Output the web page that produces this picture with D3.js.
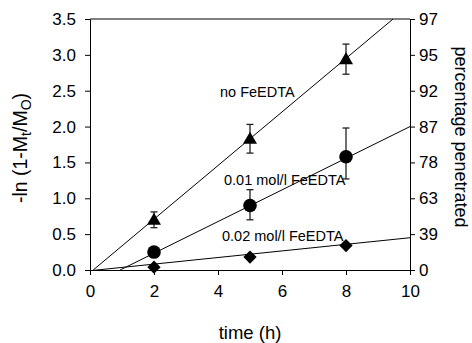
<!DOCTYPE html>
<html><head><meta charset="utf-8">
<script src="https://cdn.jsdelivr.net/npm/d3@7"></script>
<style>body{margin:0;background:#fff}svg{display:block}text{font-family:"Liberation Sans",Arial,sans-serif;fill:#000}</style>
</head><body><svg id="c" width="472" height="343"></svg>
<script>
// Data
const times = [2, 5, 8];
const noFe = [0.70, 1.83, 2.94];
const noFeErr = [0.11, 0.20, 0.21];
const fe01 = [0.25, 0.90, 1.58];
const fe01ErrUp = [0, 0.22, 0.40];
const fe01ErrDown = [0, 0.20, 0.31];
const fe02 = [0.04, 0.18, 0.34];
// fitted lines [x0, y0, x1, y1]
const fitNoFe = [0.1, 0, 9.47, 3.5];
const fit01 = [0.94, 0, 10, 2.0];
const fit02 = [0, -0.01, 10, 0.45];
const xTicks = [0, 2, 4, 6, 8, 10];
const yTicks = [0, 0.5, 1.0, 1.5, 2.0, 2.5, 3.0, 3.5];
const rightLabels = ["0", "39", "63", "78", "87", "92", "95", "97"];
const labels = ["no FeEDTA", "0.01 mol/l FeEDTA", "0.02 mol/l FeEDTA"];

const svg = d3.select("#c");
const L = 90, R = 410, T = 19, B = 270;
const x = d3.scaleLinear().domain([0, 10]).range([L, R]);
const y = d3.scaleLinear().domain([0, 3.5]).range([B, T]);

const g = svg.append("g");
svg.append("clipPath").attr("id", "clip").append("rect")
  .attr("x", L).attr("y", T).attr("width", R - L).attr("height", B - T);

// fit lines
[fitNoFe, fit01, fit02].forEach(f => {
  g.append("line").attr("clip-path", "url(#clip)")
    .attr("x1", x(f[0])).attr("y1", y(f[1])).attr("x2", x(f[2])).attr("y2", y(f[3]))
    .attr("stroke", "#000").attr("stroke-width", 1);
});

// error bars
function errBar(xv, lo, hi) {
  const cx = x(xv);
  g.append("line").attr("x1", cx).attr("x2", cx).attr("y1", y(lo)).attr("y2", y(hi)).attr("stroke", "#222").attr("stroke-width", 1.3);
  [lo, hi].forEach(v => g.append("line").attr("x1", cx - 3.5).attr("x2", cx + 3.5).attr("y1", y(v)).attr("y2", y(v)).attr("stroke", "#222").attr("stroke-width", 1.3));
}
times.forEach((t, i) => errBar(t, noFe[i] - noFeErr[i], noFe[i] + noFeErr[i]));
times.forEach((t, i) => { if (fe01ErrUp[i] > 0) errBar(t, fe01[i] - fe01ErrDown[i], fe01[i] + fe01ErrUp[i]); });

// markers
const tri = d3.symbol().type(d3.symbolTriangle).size(85);
const dia = d3.symbol().type(d3.symbolSquare).size(88);
times.forEach((t, i) => {
  g.append("path").attr("d", tri()).attr("transform", `translate(${x(t)},${y(noFe[i]) + 1})`).attr("fill", "#000");
  g.append("circle").attr("cx", x(t)).attr("cy", y(fe01[i])).attr("r", 6.8).attr("fill", "#000");
  g.append("path").attr("d", dia()).attr("transform", `translate(${x(t)},${y(fe02[i])}) rotate(45)`).attr("fill", "#000");
});

// frame top
g.append("line").attr("x1", L).attr("x2", R).attr("y1", T).attr("y2", T).attr("stroke", "#000");

// axes
const fs = "17px";
const ax = g.append("g").attr("transform", `translate(0,${B})`)
  .call(d3.axisBottom(x).tickValues(xTicks).tickFormat(d3.format("d")).tickSize(5).tickPadding(10).tickSizeOuter(0));
const ay = g.append("g").attr("transform", `translate(${L},0)`)
  .call(d3.axisLeft(y).tickValues(yTicks).tickFormat(d3.format(".1f")).tickSize(5).tickPadding(9).tickSizeOuter(0));
const ar = g.append("g").attr("transform", `translate(${R},0)`)
  .call(d3.axisRight(y).tickValues(yTicks).tickFormat((d, i) => rightLabels[i]).tickSize(5).tickPadding(4).tickSizeOuter(0));
[ax, ay, ar].forEach(a => {
  a.selectAll("text").style("font-size", fs).style("font-family", "Liberation Sans, Arial, sans-serif").attr("fill", "#000");
  a.selectAll("line,path").attr("stroke", "#000");
});

// series labels
const lbl = [[220, 97], [224, 185], [222, 241]];
labels.forEach((s, i) => g.append("text").attr("x", lbl[i][0]).attr("y", lbl[i][1]).style("font-size", "14.5px").text(s));

// axis titles
g.append("text").attr("x", 250).attr("y", 339).attr("text-anchor", "middle").style("font-size", "18.5px").text("time (h)");
const lt = g.append("text").attr("transform", "translate(27,148) rotate(-90)").attr("text-anchor", "middle").style("font-size", "19.5px");
lt.append("tspan").text("-ln (1-M");
lt.append("tspan").attr("dy", 4).style("font-size", "14px").text("t");
lt.append("tspan").attr("dy", -4).text("/M");
lt.append("tspan").attr("dy", 4).style("font-size", "14px").text("O");
lt.append("tspan").attr("dy", -4).text(")");
g.append("text").attr("transform", "translate(455,137) rotate(90)").attr("text-anchor", "middle").style("font-size", "18px").text("percentage penetrated");
</script></body></html>
